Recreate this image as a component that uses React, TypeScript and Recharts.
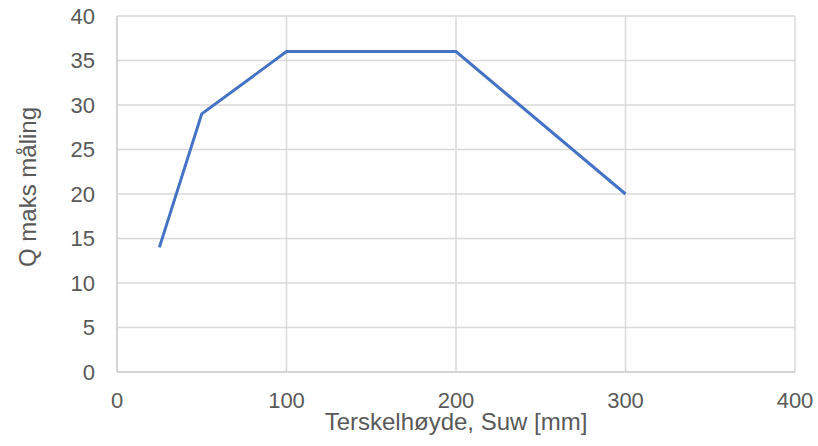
import React from 'react';
import { LineChart, Line, XAxis, YAxis, CartesianGrid } from 'recharts';

const xValues = [25, 50, 100, 200, 300];
const qValues = [14, 29, 36, 36, 20];
const xTicks = [0, 100, 200, 300, 400];
const yTicks = [0, 5, 10, 15, 20, 25, 30, 35, 40];

const data = xValues.map((x, i) => ({ x, q: qValues[i] }));

const tickFont = { fontFamily: 'Liberation Sans, Arial, sans-serif', fontSize: 22, fill: '#595959' };
const titleFont = { fontFamily: 'Liberation Sans, Arial, sans-serif', fontSize: 24, fill: '#595959' };

export default function App() {
  return (
    <div style={{ position: 'absolute', left: 0, top: 0, width: 818, height: 446, background: '#fff' }}>
      <LineChart width={818} height={446} data={data} margin={{ top: 16, right: 23, left: 12, bottom: 0 }}>
        <CartesianGrid stroke="#d9d9d9" strokeWidth={1.5} />
        <XAxis
          dataKey="x"
          type="number"
          domain={[0, 400]}
          ticks={xTicks}
          height={74}
          tickSize={0}
          tickMargin={20}
          axisLine={{ stroke: '#d0d0d0', strokeWidth: 1.5 }}
          tick={tickFont}
          label={{ value: 'Terskelhøyde, Suw [mm]', position: 'insideBottom', offset: 16, style: { ...titleFont } }}
        />
        <YAxis
          type="number"
          domain={[0, 40]}
          ticks={yTicks}
          width={105}
          tickSize={0}
          tickMargin={22}
          axisLine={{ stroke: '#d0d0d0', strokeWidth: 1.5 }}
          tick={tickFont}
          label={{ value: 'Q maks måling', angle: -90, position: 'insideLeft', offset: 15, dy: -7, style: { ...titleFont, textAnchor: 'middle' } }}
        />
        <Line dataKey="q" stroke="#4472C4" strokeWidth={3} dot={false} isAnimationActive={false} />
      </LineChart>
    </div>
  );
}
